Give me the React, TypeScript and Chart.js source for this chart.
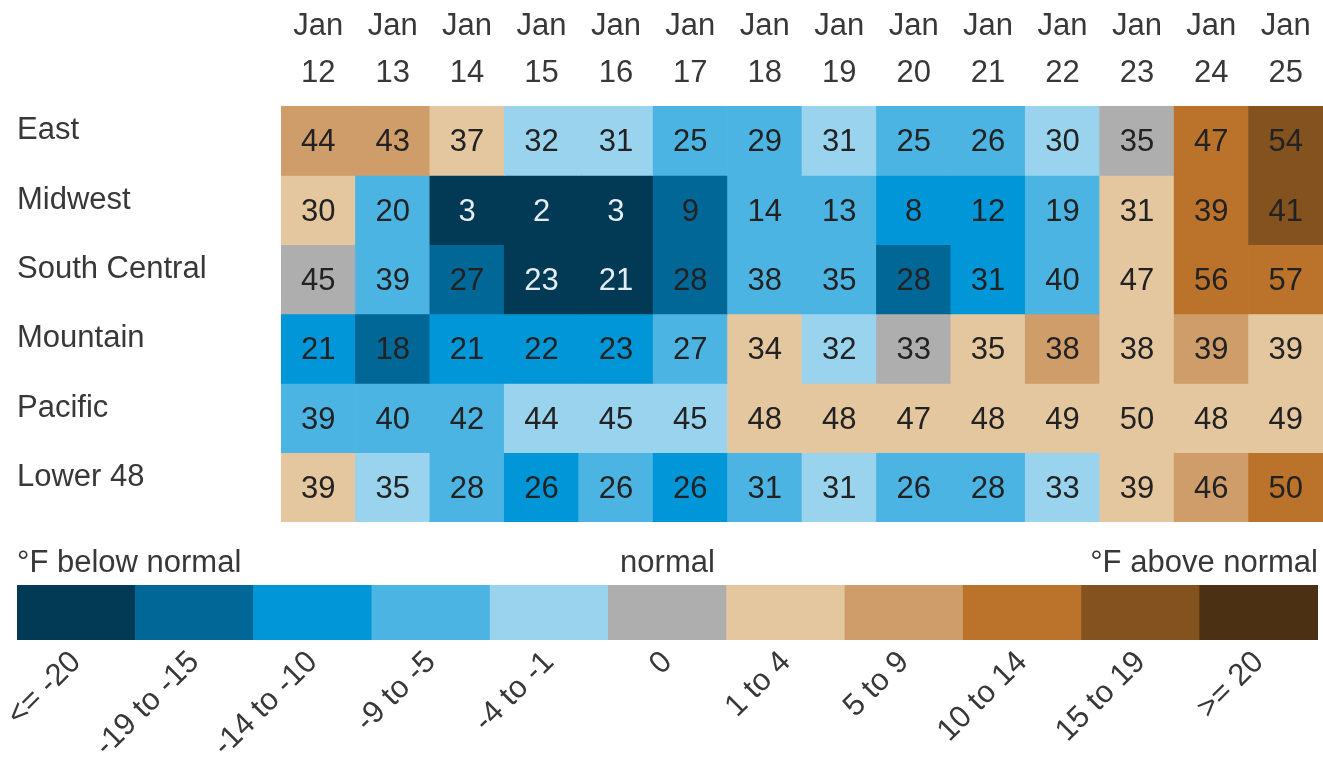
import React, { useEffect, useRef } from 'react';
import { Chart, registerables } from 'chart.js';

Chart.register(...registerables);

const FONT = "'Liberation Sans', Arial, Helvetica, sans-serif";

const regions = ['East', 'Midwest', 'South Central', 'Mountain', 'Pacific', 'Lower 48'];
const days = ['12', '13', '14', '15', '16', '17', '18', '19', '20', '21', '22', '23', '24', '25'];

// observed temperatures (°F)
const eastTemps = [44, 43, 37, 32, 31, 25, 29, 31, 25, 26, 30, 35, 47, 54];
const midwestTemps = [30, 20, 3, 2, 3, 9, 14, 13, 8, 12, 19, 31, 39, 41];
const southCentralTemps = [45, 39, 27, 23, 21, 28, 38, 35, 28, 31, 40, 47, 56, 57];
const mountainTemps = [21, 18, 21, 22, 23, 27, 34, 32, 33, 35, 38, 38, 39, 39];
const pacificTemps = [39, 40, 42, 44, 45, 45, 48, 48, 47, 48, 49, 50, 48, 49];
const lower48Temps = [39, 35, 28, 26, 26, 26, 31, 31, 26, 28, 33, 39, 46, 50];

// anomaly class (index into classLabels) per cell
const eastClass = [7, 7, 6, 4, 4, 3, 3, 4, 3, 3, 4, 5, 8, 9];
const midwestClass = [6, 3, 0, 0, 0, 1, 3, 3, 2, 2, 3, 6, 8, 9];
const southCentralClass = [5, 3, 1, 0, 0, 1, 3, 3, 1, 2, 3, 6, 8, 8];
const mountainClass = [2, 1, 2, 2, 2, 3, 6, 4, 5, 6, 7, 6, 7, 6];
const pacificClass = [3, 3, 3, 4, 4, 4, 6, 6, 6, 6, 6, 6, 6, 6];
const lower48Class = [6, 4, 3, 2, 3, 2, 3, 4, 3, 3, 4, 6, 7, 8];

const classLabels = ['<= -20', '-19 to -15', '-14 to -10', '-9 to -5', '-4 to -1', '0', '1 to 4', '5 to 9', '10 to 14', '15 to 19', '>= 20'];
const classColors = ['#023a56', '#006796', '#0096d7', '#4cb4e2', '#99d3ee', '#aeaeae', '#e4c69f', '#cf9d69', '#bb722b', '#83521e', '#4b3013'];

const temps = [eastTemps, midwestTemps, southCentralTemps, mountainTemps, pacificTemps, lower48Temps];
const classes = [eastClass, midwestClass, southCentralClass, mountainClass, pacificClass, lower48Class];

const legendTitles = ['°F below normal', 'normal', '°F above normal'];

const TEXT = '#383838';

export default function App() {
  const mainRef = useRef<HTMLCanvasElement | null>(null);
  const legendRef = useRef<HTMLCanvasElement | null>(null);

  useEffect(() => {
    const valuePlugin = {
      id: 'cellValues',
      afterDatasetsDraw(chart: any) {
        const ctx = chart.ctx;
        ctx.save();
        ctx.font = `31px ${FONT}`;
        ctx.textAlign = 'center';
        ctx.textBaseline = 'middle';
        chart.data.datasets.forEach((_ds: any, ri: number) => {
          const meta = chart.getDatasetMeta(ri);
          meta.data.forEach((el: any, ci: number) => {
            const p = el.getProps(['x', 'y', 'base'], true);
            const cy = (p.y + p.base) / 2;
            ctx.fillStyle = classes[ri][ci] === 0 ? '#e6edf2' : '#222222';
            ctx.fillText(String(temps[ri][ci]), p.x, cy + 2);
          });
        });
        ctx.restore();
      },
    };

    const main = new Chart(mainRef.current as HTMLCanvasElement, {
      type: 'bar',
      data: {
        labels: days,
        datasets: regions.map((r, ri) => ({
          label: r,
          data: days.map(() => [ri, ri + 1]),
          backgroundColor: classes[ri].map((c) => classColors[c]),
          borderWidth: 0,
          barPercentage: 1,
          categoryPercentage: 1,
          grouped: false,
        })),
      } as any,
      options: {
        animation: false,
        responsive: false,
        maintainAspectRatio: false,
        layout: { padding: { left: 17, right: 0, top: 0, bottom: 0 } },
        plugins: { legend: { display: false }, tooltip: { enabled: false } },
        scales: {
          x: {
            type: 'category',
            position: 'top',
            grid: { display: false, drawTicks: false },
            border: { display: false },
            ticks: {
              autoSkip: false,
              maxRotation: 0,
              minRotation: 0,
              padding: 9,
              color: TEXT,
              font: { family: FONT, size: 31, lineHeight: 1.52 },
              callback: (_v: any, i: number) => ['Jan', days[i]],
            },
            afterFit: (s: any) => {
              s.height = 106;
              s.paddingLeft = 0;
              s.paddingRight = 0;
            },
          },
          y: {
            type: 'linear',
            min: 0,
            max: 6,
            reverse: true,
            grid: { display: false, drawTicks: false },
            border: { display: false },
            afterBuildTicks: (s: any) => {
              s.ticks = regions.map((_r, i) => ({ value: i + 0.5 }));
            },
            ticks: {
              autoSkip: false,
              crossAlign: 'far',
              labelOffset: -10,
              padding: 0,
              color: TEXT,
              font: { family: FONT, size: 31 },
              callback: (v: any) => regions[Math.floor(Number(v))],
            },
            afterFit: (s: any) => {
              s.width = 264;
              s.paddingTop = 0;
              s.paddingBottom = 0;
            },
          },
        },
      } as any,
      plugins: [valuePlugin],
    });

    const titlePlugin = {
      id: 'legendTitles',
      afterDraw(chart: any) {
        const ctx = chart.ctx;
        const a = chart.chartArea;
        ctx.save();
        ctx.font = `31px ${FONT}`;
        ctx.fillStyle = TEXT;
        ctx.textBaseline = 'middle';
        const y = a.top - 22;
        ctx.textAlign = 'left';
        ctx.fillText(legendTitles[0], a.left, y);
        ctx.textAlign = 'center';
        ctx.fillText(legendTitles[1], (a.left + a.right) / 2, y);
        ctx.textAlign = 'right';
        ctx.fillText(legendTitles[2], a.right, y);
        ctx.restore();
      },
    };

    const legend = new Chart(legendRef.current as HTMLCanvasElement, {
      type: 'bar',
      data: {
        labels: classLabels,
        datasets: [
          {
            data: classLabels.map(() => 1),
            backgroundColor: classColors,
            borderWidth: 0,
            barPercentage: 1,
            categoryPercentage: 1,
          },
        ],
      },
      options: {
        animation: false,
        responsive: false,
        maintainAspectRatio: false,
        layout: { padding: { left: 17, right: 5, top: 63, bottom: 0 } },
        plugins: { legend: { display: false }, tooltip: { enabled: false } },
        scales: {
          x: {
            grid: { display: false, drawTicks: false },
            border: { display: false },
            ticks: {
              autoSkip: false,
              minRotation: 45,
              maxRotation: 45,
              padding: 4,
              color: TEXT,
              font: { family: FONT, size: 31 },
            },
            afterFit: (s: any) => {
              s.height = 119;
              s.paddingLeft = 0;
              s.paddingRight = 0;
            },
          },
          y: { display: false, min: 0, max: 1 },
        },
      } as any,
      plugins: [titlePlugin],
    });

    return () => {
      main.destroy();
      legend.destroy();
    };
  }, []);

  return (
    <div style={{ position: 'absolute', left: 0, top: 0, width: 1323, height: 759, overflow: 'hidden', background: '#ffffff' }}>
      <canvas ref={mainRef} width={1323} height={522} style={{ position: 'absolute', left: 0, top: 0, display: 'block' }} />
      <canvas ref={legendRef} width={1323} height={237} style={{ position: 'absolute', left: 0, top: 522, display: 'block' }} />
    </div>
  );
}
